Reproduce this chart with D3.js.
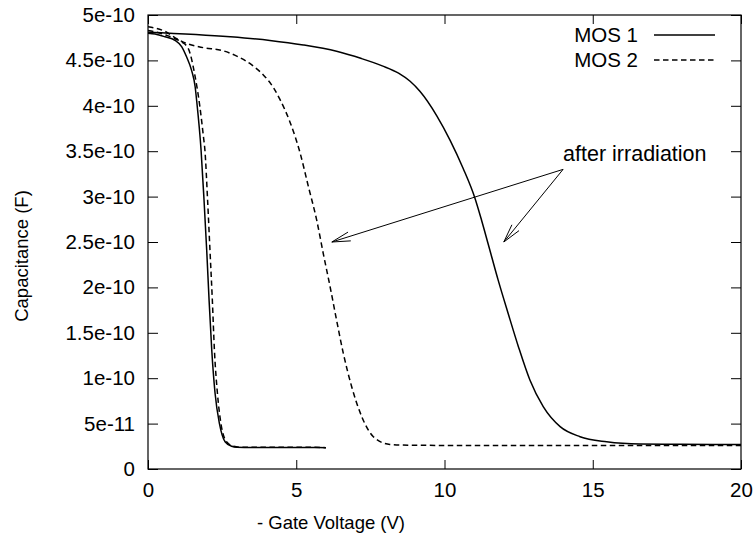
<!DOCTYPE html>
<html>
<head>
<meta charset="utf-8">
<script src="https://cdn.jsdelivr.net/npm/d3@7"></script>
<style>
  body { margin: 0; background: #fff; }
  text { font-family: "Liberation Sans", Arial, Helvetica, sans-serif; fill: #000; }
</style>
</head>
<body>
<svg id="chart"></svg>
<script>
// Values (voltage in V, capacitance in F)
const mos1BeforeV = [0, 0.24, 0.57, 0.91, 1.14, 1.30, 1.47, 1.59, 1.64, 1.79, 1.89, 1.98, 2.06, 2.15, 2.26, 2.41, 2.60, 2.82, 3.0, 3.5, 4.0, 4.5, 5.0, 5.5, 6.0];
const mos1BeforeC = [4.80e-10, 4.79e-10, 4.76e-10, 4.72e-10, 4.65e-10, 4.54e-10, 4.39e-10, 4.21e-10, 4.06e-10, 3.51e-10, 2.96e-10, 2.41e-10, 1.86e-10, 1.31e-10, 0.84e-10, 0.50e-10, 0.30e-10, 0.25e-10, 0.24e-10, 0.238e-10, 0.238e-10, 0.237e-10, 0.237e-10, 0.236e-10, 0.235e-10];

const mos2BeforeV = [0, 0.3, 0.6, 0.9, 1.15, 1.36, 1.59, 1.75, 1.87, 1.92, 2.01, 2.09, 2.17, 2.24, 2.34, 2.46, 2.65, 2.88, 3.1, 3.5, 4.0, 4.5, 5.0, 5.5, 6.0];
const mos2BeforeC = [4.83e-10, 4.81e-10, 4.78e-10, 4.74e-10, 4.70e-10, 4.63e-10, 4.32e-10, 3.99e-10, 3.66e-10, 3.51e-10, 2.96e-10, 2.41e-10, 1.86e-10, 1.31e-10, 0.84e-10, 0.50e-10, 0.30e-10, 0.25e-10, 0.24e-10, 0.24e-10, 0.24e-10, 0.24e-10, 0.24e-10, 0.24e-10, 0.235e-10];

const mos2AfterV = [0, 0.57, 1.02, 1.36, 1.87, 2.49, 3.04, 3.50, 3.89, 4.23, 4.45, 4.79, 5.13, 5.41, 5.69, 5.91, 6.14, 6.36, 6.59, 6.87, 7.21, 7.60, 8.16, 8.84, 10, 12, 14, 16, 18, 20];
const mos2AfterC = [4.87e-10, 4.82e-10, 4.73e-10, 4.68e-10, 4.64e-10, 4.61e-10, 4.54e-10, 4.45e-10, 4.34e-10, 4.20e-10, 4.07e-10, 3.82e-10, 3.48e-10, 3.11e-10, 2.74e-10, 2.375e-10, 2.01e-10, 1.64e-10, 1.27e-10, 0.906e-10, 0.576e-10, 0.356e-10, 0.27e-10, 0.262e-10, 0.26e-10, 0.26e-10, 0.26e-10, 0.26e-10, 0.26e-10, 0.26e-10];

const mos1AfterV = [0, 2.77, 4.11, 5.24, 6.36, 7.2, 7.9, 8.45, 8.84, 9.17, 9.74, 10.19, 10.63, 11.03, 11.25, 11.48, 11.81, 12.15, 12.49, 12.88, 13.33, 13.90, 14.57, 15.47, 16.6, 18, 20];
const mos1AfterC = [4.81e-10, 4.76e-10, 4.72e-10, 4.67e-10, 4.60e-10, 4.52e-10, 4.44e-10, 4.36e-10, 4.27e-10, 4.16e-10, 3.89e-10, 3.62e-10, 3.31e-10, 2.98e-10, 2.74e-10, 2.47e-10, 2.08e-10, 1.71e-10, 1.35e-10, 0.98e-10, 0.686e-10, 0.466e-10, 0.356e-10, 0.30e-10, 0.275e-10, 0.272e-10, 0.27e-10];

const xTicks = [0, 5, 10, 15, 20];
const yTicks = [0, 0.5e-10, 1e-10, 1.5e-10, 2e-10, 2.5e-10, 3e-10, 3.5e-10, 4e-10, 4.5e-10, 5e-10];
const yTickLabels = ["0", "5e-11", "1e-10", "1.5e-10", "2e-10", "2.5e-10", "3e-10", "3.5e-10", "4e-10", "4.5e-10", "5e-10"];

const legendNames = ["MOS 1", "MOS 2"];
const arrowFrom = [14, 3.3e-10];
const arrowTargets = [[6.2, 2.5e-10], [12, 2.5e-10]];
const noteText = "after irradiation";
const notePos = [14, 3.48e-10];

const W = 753, H = 540;
const margin = { top: 15, right: 12, bottom: 71, left: 148 };
const width = W - margin.left - margin.right;
const height = H - margin.top - margin.bottom;

const svg = d3.select("#chart").attr("width", W).attr("height", H);
const g = svg.append("g").attr("transform", `translate(${margin.left},${margin.top})`);

const x = d3.scaleLinear().domain([0, 20]).range([0, width]);
const y = d3.scaleLinear().domain([0, 5e-10]).range([height, 0]);

// clip for curves
svg.append("defs").append("clipPath").attr("id", "plot")
  .append("rect").attr("width", width).attr("height", height);

// axes, ticks pointing inward like gnuplot
const fs = 20.5;
const axBottom = g.append("g")
  .attr("transform", `translate(0,${height})`)
  .call(d3.axisBottom(x).tickValues(xTicks).tickSizeInner(-9).tickSizeOuter(0).tickPadding(13));
const axTop = g.append("g")
  .call(d3.axisTop(x).tickValues(xTicks).tickSizeInner(-9).tickSizeOuter(0).tickFormat(""));
const axLeft = g.append("g")
  .call(d3.axisLeft(y).tickValues(yTicks).tickSizeInner(-10).tickSizeOuter(0).tickPadding(13)
    .tickFormat((d, i) => yTickLabels[i]));
const axRight = g.append("g")
  .attr("transform", `translate(${width},0)`)
  .call(d3.axisRight(y).tickValues(yTicks).tickSizeInner(-10).tickSizeOuter(0).tickFormat(""));

[axBottom, axTop, axLeft, axRight].forEach(a => {
  a.select(".domain").remove();
  a.selectAll(".tick line").attr("stroke", "#000").attr("stroke-width", 1);
  a.selectAll("text").attr("font-size", fs).attr("font-family", null);
});

g.append("rect")
  .attr("width", width).attr("height", height)
  .attr("fill", "none").attr("stroke", "#000").attr("stroke-width", 1.2);

// axis titles
svg.append("text")
  .attr("x", 331).attr("y", 529)
  .attr("text-anchor", "middle").attr("font-size", 18.5)
  .text("- Gate Voltage (V)");
svg.append("text")
  .attr("transform", `translate(28,256) rotate(-90)`)
  .attr("text-anchor", "middle").attr("font-size", 18.5)
  .text("Capacitance (F)");

// curves
const line = d3.line().x(d => x(d[0])).y(d => y(d[1])).curve(d3.curveMonotoneX);
const series = [
  { v: mos1BeforeV, c: mos1BeforeC, dash: null },
  { v: mos2BeforeV, c: mos2BeforeC, dash: "5.5,3.5" },
  { v: mos2AfterV, c: mos2AfterC, dash: "5.5,3.5" },
  { v: mos1AfterV, c: mos1AfterC, dash: null }
];
g.append("g").attr("clip-path", "url(#plot)")
  .selectAll("path")
  .data(series)
  .enter()
  .append("path")
  .attr("d", s => line(s.v.map((v, i) => [v, s.c[i]])))
  .attr("fill", "none")
  .attr("stroke", "#000")
  .attr("stroke-width", 1.5)
  .attr("stroke-dasharray", s => s.dash);

// legend
const legend = g.selectAll(".legend-item")
  .data(legendNames)
  .enter()
  .append("g")
  .attr("class", "legend-item")
  .attr("transform", (d, i) => `translate(0,${20 + i * 25})`);
legend.append("text")
  .attr("x", 490).attr("dy", "0.35em")
  .attr("text-anchor", "end").attr("font-size", fs)
  .text(d => d);
legend.append("line")
  .attr("x1", 506).attr("x2", 567)
  .attr("stroke", "#000").attr("stroke-width", 1.5)
  .attr("stroke-dasharray", (d, i) => i ? "5.5,3.5" : null);

// annotation arrows (open heads)
const x0 = x(arrowFrom[0]), y0 = y(arrowFrom[1]);
arrowTargets.forEach(t => {
  const x1 = x(t[0]), y1 = y(t[1]);
  const ang = Math.atan2(y0 - y1, x0 - x1);
  const len = 19, spread = 14 * Math.PI / 180;
  g.append("line")
    .attr("x1", x0).attr("y1", y0).attr("x2", x1).attr("y2", y1)
    .attr("stroke", "#000").attr("stroke-width", 1);
  g.append("path")
    .attr("d", `M${x1 + len * Math.cos(ang + spread)},${y1 + len * Math.sin(ang + spread)}L${x1},${y1}L${x1 + len * Math.cos(ang - spread)},${y1 + len * Math.sin(ang - spread)}`)
    .attr("fill", "none").attr("stroke", "#000").attr("stroke-width", 1);
});
g.append("text")
  .attr("x", x(notePos[0])).attr("y", y(notePos[1]))
  .attr("dy", "0.35em").attr("font-size", 21.5)
  .text(noteText);
</script>
</body>
</html>
